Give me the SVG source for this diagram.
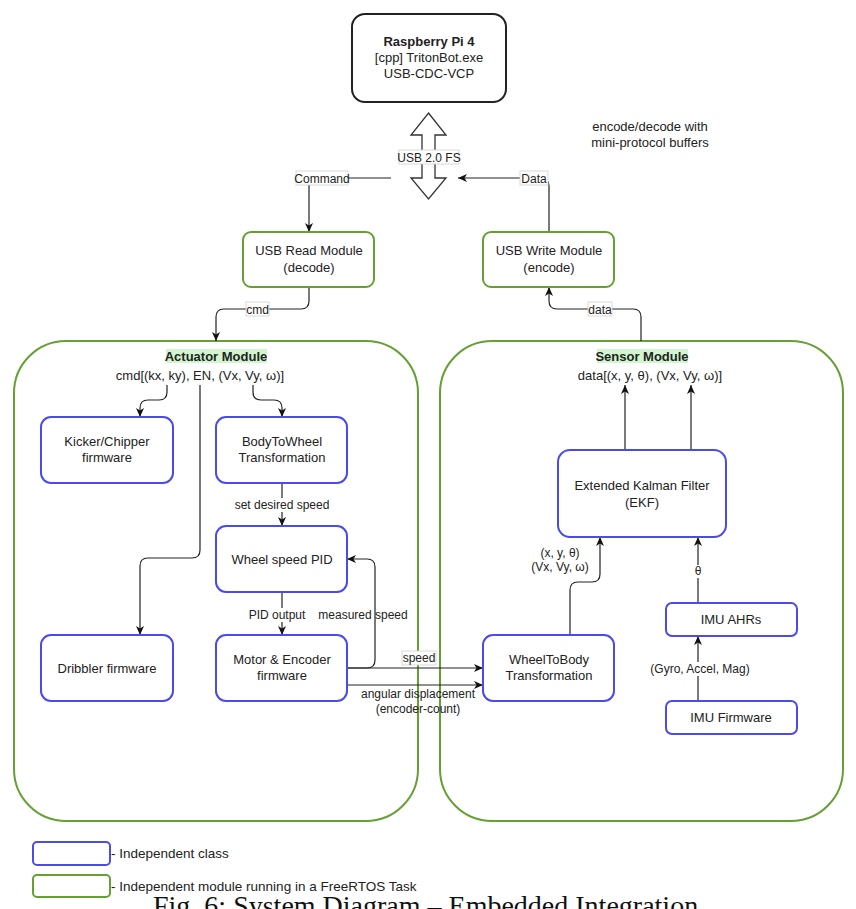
<svg xmlns="http://www.w3.org/2000/svg" width="856" height="909" viewBox="0 0 856 909">
<defs>
<marker id="arr" markerWidth="10" markerHeight="10" refX="9" refY="5" orient="auto" markerUnits="userSpaceOnUse">
<path d="M0,1 L9,5 L0,9 L2.5,5 z" fill="#111"/>
</marker>
<style>
text{font-family:"Liberation Sans",Arial,sans-serif;fill:#222;text-anchor:middle}
.n{font-size:13px}
.b{font-weight:bold}
.e{font-size:12px}
.cls{fill:#fff;stroke:#4a4aee;stroke-width:2}
.mod{fill:#fff;stroke:#64a032;stroke-width:2}
.cont{fill:none;stroke:#64a032;stroke-width:2}
.c{fill:none;stroke:#222;stroke-width:1.2}
.ca{fill:none;stroke:#222;stroke-width:1.2;marker-end:url(#arr)}
.lb{fill:#fff;stroke:#d0d0d0;stroke-width:0.8}
.lw{fill:#fff}
.hl{fill:#d2f5d0}
</style>
</defs>
<rect width="856" height="909" fill="#fff"/>

<g id="actuator-module">
<rect class="cont" x="14" y="341" width="404" height="480" rx="52"/>
<rect class="hl" x="166" y="349" width="101" height="14"/>
<text class="n b" x="216" y="360.5">Actuator Module</text>
<text class="n" x="200" y="379.5">cmd[(kx, ky), EN, (Vx, Vy, ω)]</text>
</g>
<g id="sensor-module">
<rect class="cont" x="440" y="341" width="403" height="480" rx="52"/>
<rect class="hl" x="597" y="349" width="91" height="14"/>
<text class="n b" x="642" y="360.5">Sensor Module</text>
<text class="n" x="650" y="379.5">data[(x, y, θ), (Vx, Vy, ω)]</text>
</g>

<g id="connectors">
<path class="ca" d="M391,178 H317 Q309,178 309,186 V232"/>
<path class="ca" d="M549,232 V186 Q549,178 541,178 H458"/>
<path class="ca" d="M309,287 V301 Q309,309 301,309 H224 Q216,309 216,317 V341"/>
<path class="ca" d="M641,341 V317 Q641,309 633,309 H557 Q549,309 549,301 V287"/>
<path class="ca" d="M167,385 V392 Q167,400 159,400 H148 Q140,400 140,408 V417"/>
<path class="ca" d="M253,385 V392 Q253,400 261,400 H274 Q282,400 282,408 V417"/>
<path class="ca" d="M200,385 V550 Q200,558 192,558 H148 Q140,558 140,566 V635"/>
<path class="ca" d="M282,483 V526"/>
<path class="ca" d="M282,592 V635"/>
<path class="ca" d="M347,668 H367 Q375,668 375,660 V567 Q375,559 367,559 H347"/>
<path class="ca" d="M347,668 H483"/>
<path class="ca" d="M347,685 H483"/>
<path class="ca" d="M570,635 V590 Q570,582 578,582 H592 Q600,582 600,574 V537"/>
<path class="ca" d="M698,603 V537"/>
<path class="ca" d="M698,701 V636"/>
<path class="ca" d="M625,450 V385"/>
<path class="ca" d="M691,450 V385"/>
<polygon points="428.5,113 446,135 435,135 435,178 446,178 428.5,199 411,178 422,178 422,135 411,135" fill="#fff" stroke="#333" stroke-width="1.3"/>

<rect class="lb" x="296" y="171" width="52" height="14"/>
<text class="e" x="322" y="182.5">Command</text>
<rect class="lb" x="520" y="171" width="28" height="14"/>
<text class="e" x="534" y="182.5">Data</text>
<rect class="lb" x="399" y="150" width="60" height="14"/>
<text class="e" x="429" y="161.5">USB 2.0 FS</text>
<rect class="lb" x="246" y="302" width="23" height="14"/>
<text class="e" x="257.5" y="313.5">cmd</text>
<rect class="lb" x="588" y="302" width="24" height="14"/>
<text class="e" x="600" y="313.5">data</text>
<rect class="lw" x="233" y="498" width="98" height="14"/>
<text class="e" x="282" y="509">set desired speed</text>
<rect class="lw" x="250" y="608" width="54" height="14"/>
<text class="e" x="277" y="619">PID output</text>
<text class="e" x="363" y="619">measured speed</text>
<rect class="lb" x="402" y="651" width="34" height="14"/>
<text class="e" x="419" y="662">speed</text>
<text class="e" x="418" y="698">angular displacement</text>
<text class="e" x="418" y="713">(encoder-count)</text>
<rect class="lw" x="528" y="545" width="64" height="28"/>
<text class="e" x="560" y="557">(x, y, θ)</text>
<text class="e" x="560" y="571">(Vx, Vy, ω)</text>
<rect class="lw" x="692" y="565" width="12" height="13"/>
<text class="e" x="698" y="575">θ</text>
<rect class="lw" x="650" y="662" width="101" height="14"/>
<text class="e" x="700" y="673">(Gyro, Accel, Mag)</text>
</g>

<g id="raspberry-pi">
<rect x="352" y="14" width="154" height="88" rx="13" fill="#fff" stroke="#222" stroke-width="2"/>
<text class="n b" x="429" y="46">Raspberry Pi 4</text>
<text class="n" x="429" y="62">[cpp] TritonBot.exe</text>
<text class="n" x="429" y="78">USB-CDC-VCP</text>
</g>
<g id="note">
<text class="n" x="650" y="131">encode/decode with</text>
<text class="n" x="650" y="147">mini-protocol buffers</text>
</g>
<g id="usb-read">
<rect class="mod" x="243" y="232" width="131" height="55" rx="8"/>
<text class="n" x="309" y="255">USB Read Module</text>
<text class="n" x="309" y="272">(decode)</text>
</g>
<g id="usb-write">
<rect class="mod" x="483" y="232" width="131" height="55" rx="8"/>
<text class="n" x="549" y="255">USB Write Module</text>
<text class="n" x="549" y="272">(encode)</text>
</g>
<g id="kicker">
<rect class="cls" x="41" y="417" width="132" height="66" rx="10"/>
<text class="n" x="107" y="446">Kicker/Chipper</text>
<text class="n" x="107" y="462">firmware</text>
</g>
<g id="body-to-wheel">
<rect class="cls" x="216" y="417" width="131" height="66" rx="10"/>
<text class="n" x="282" y="446">BodyToWheel</text>
<text class="n" x="282" y="462">Transformation</text>
</g>
<g id="wheel-pid">
<rect class="cls" x="216" y="526" width="131" height="66" rx="10"/>
<text class="n" x="282" y="564">Wheel speed PID</text>
</g>
<g id="dribbler">
<rect class="cls" x="41" y="635" width="132" height="66" rx="10"/>
<text class="n" x="107" y="673">Dribbler firmware</text>
</g>
<g id="motor-encoder">
<rect class="cls" x="216" y="635" width="131" height="66" rx="10"/>
<text class="n" x="282" y="664">Motor &amp; Encoder</text>
<text class="n" x="282" y="680">firmware</text>
</g>
<g id="ekf">
<rect class="cls" x="558" y="450" width="168" height="87" rx="12"/>
<text class="n" x="642" y="490">Extended Kalman Filter</text>
<text class="n" x="642" y="507">(EKF)</text>
</g>
<g id="wheel-to-body">
<rect class="cls" x="483" y="635" width="131" height="66" rx="10"/>
<text class="n" x="549" y="664">WheelToBody</text>
<text class="n" x="549" y="680">Transformation</text>
</g>
<g id="imu-ahrs">
<rect class="cls" x="666" y="603" width="131" height="33" rx="6"/>
<text class="n" x="731" y="624">IMU AHRs</text>
</g>
<g id="imu-firmware">
<rect class="cls" x="666" y="701" width="131" height="33" rx="6"/>
<text class="n" x="731" y="722">IMU Firmware</text>
</g>

<g id="legend">
<rect class="cls" x="33" y="842" width="77" height="23" rx="4"/>
<text class="n" x="111" y="858" style="text-anchor:start;font-size:13.5px">- Independent class</text>
<rect class="mod" x="33" y="875" width="77" height="22" rx="4"/>
<text class="n" x="111" y="891" style="text-anchor:start;font-size:13.5px">- Independent module running in a FreeRTOS Task</text>
</g>
<text x="153" y="915" style="font-family:'Liberation Serif','Times New Roman',serif;font-size:28px;text-anchor:start;fill:#111">Fig. 6: System Diagram – Embedded Integration</text>
</svg>
